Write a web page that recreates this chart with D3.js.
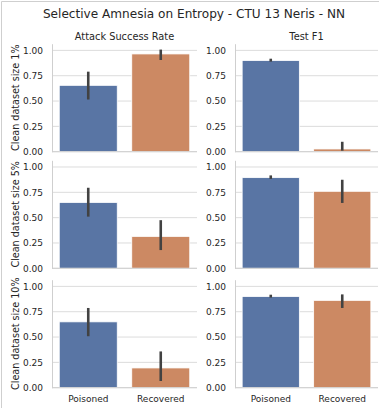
<!DOCTYPE html>
<html><head><meta charset="utf-8">
<script src="https://cdn.jsdelivr.net/npm/d3@7"></script>
<style>body{margin:0;background:#fff;} text{font-family:"DejaVu Sans",sans-serif;fill:#262626;}</style>
</head><body>
<svg id="c" width="381" height="408"></svg>
<script>
const title = "Selective Amnesia on Entropy - CTU 13 Neris - NN";
const metrics = ["Attack Success Rate", "Test F1"];
const rowLabels = ["Clean dataset size 1%", "Clean dataset size 5%", "Clean dataset size 10%"];
const categories = ["Poisoned", "Recovered"];
const yTicks = [0, 0.25, 0.5, 0.75, 1.0];
// mean values [row][metric][category]
const means = [
  [[0.655, 0.965], [0.900, 0.027]],
  [[0.650, 0.315], [0.895, 0.760]],
  [[0.650, 0.195], [0.900, 0.862]]
];
const errLow = [
  [[0.515, 0.905], [0.889, 0.010]],
  [[0.510, 0.180], [0.882, 0.645]],
  [[0.508, 0.066], [0.889, 0.787]]
];
const errHigh = [
  [[0.790, 1.008], [0.918, 0.098]],
  [[0.795, 0.475], [0.917, 0.874]],
  [[0.787, 0.358], [0.918, 0.921]]
];
const colors = ["#5975a4", "#cc8963"];

const svg = d3.select("#c");
// figure border (left + top)
svg.append("line").attr("x1",1.5).attr("x2",1.5).attr("y1",1.5).attr("y2",408).attr("stroke","#cfcfcf").attr("stroke-width",1);
svg.append("line").attr("x1",1.5).attr("x2",379).attr("y1",1.5).attr("y2",1.5).attr("stroke","#cfcfcf").attr("stroke-width",1);

svg.append("text").attr("x",194).attr("y",18).attr("text-anchor","middle").attr("font-size",12.1).text(title);

const colX = [[52, 197], [235, 378]];
const rowBottom = [151.7, 268.3, 387.7];
const rowH = 108;

for (let r = 0; r < 3; r++) {
  const y = d3.scaleLinear().domain([0, 1.066]).range([rowBottom[r], rowBottom[r] - rowH]);
  for (let c = 0; c < 2; c++) {
    const x = d3.scaleBand().domain(categories).range(colX[c]).paddingInner(0.2).paddingOuter(0.1);
    const g = svg.append("g");
    // grid
    g.selectAll(".grid").data(yTicks).join("line")
      .attr("x1", colX[c][0]).attr("x2", colX[c][1])
      .attr("y1", d => y(d)).attr("y2", d => y(d))
      .attr("stroke", "#dcdcdc").attr("stroke-width", 1);
    // y axis
    const ya = g.append("g").attr("transform", `translate(${colX[c][0]},0)`)
      .call(d3.axisLeft(y).tickValues(yTicks).tickFormat(d3.format(".2f")).tickSize(0).tickPadding(9));
    ya.select(".domain").attr("stroke", "#cfcfcf");
    ya.selectAll("text").attr("font-size", 9).attr("fill", "#333").style("font-family", "DejaVu Sans");
    // bars
    g.selectAll(".bar").data(categories).join("rect")
      .attr("x", d => x(d)).attr("width", x.bandwidth())
      .attr("y", (d, i) => y(means[r][c][i]))
      .attr("height", (d, i) => y(0) - y(means[r][c][i]))
      .attr("fill", (d, i) => colors[i])
      .attr("stroke", "#fff").attr("stroke-width", 0.8);
    // bottom spine
    g.append("line").attr("x1", colX[c][0]).attr("x2", colX[c][1])
      .attr("y1", y(0)).attr("y2", y(0)).attr("stroke", "#cfcfcf");
    // error bars
    g.selectAll(".err").data(categories).join("line")
      .attr("x1", d => x(d) + x.bandwidth() / 2).attr("x2", d => x(d) + x.bandwidth() / 2)
      .attr("y1", (d, i) => y(errLow[r][c][i])).attr("y2", (d, i) => y(errHigh[r][c][i]))
      .attr("stroke", "#424242").attr("stroke-width", 2.6);
    if (r === 0) {
      svg.append("text").attr("x", (colX[c][0] + colX[c][1]) / 2).attr("y", 40)
        .attr("text-anchor", "middle").attr("font-size", 9.8).text(metrics[c]);
    }
    if (r === 2) {
      g.append("g").attr("transform", `translate(0,${y(0)})`)
        .call(d3.axisBottom(x).tickSize(0).tickPadding(8))
        .call(a => a.select(".domain").remove())
        .selectAll("text").attr("font-size", 9).attr("fill", "#333").style("font-family", "DejaVu Sans");
    }
  }
  const cy = rowBottom[r] - rowH / 2;
  svg.append("text").attr("transform", `translate(18.5,${cy}) rotate(-90)`)
    .attr("text-anchor", "middle").attr("font-size", 9.6).text(rowLabels[r]);
}
</script>
</body></html>
